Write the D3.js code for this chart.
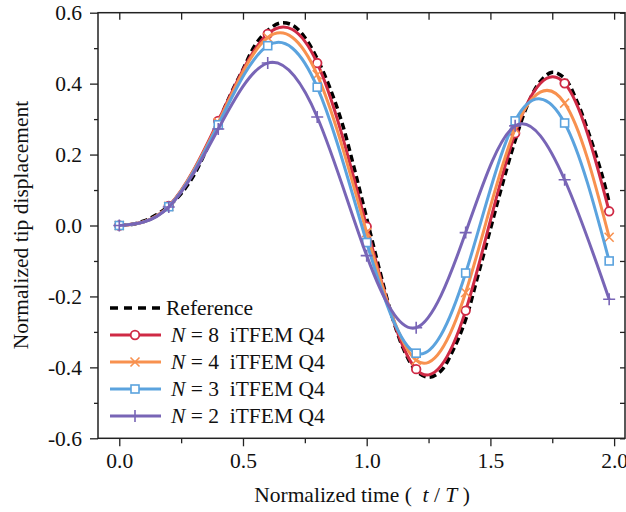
<!DOCTYPE html>
<html>
<head>
<meta charset="utf-8">
<script src="https://cdn.jsdelivr.net/npm/d3@7"></script>
<style>
  body { margin: 0; background: #fff; }
  svg text { font-family: "Liberation Serif", serif; fill: #111; }
</style>
</head>
<body>
<div id="chart"></div>
<script>
// ---- data ----
let markTimes = [0, 0.2, 0.4, 0.6, 0.8, 1.0, 1.2, 1.4, 1.6, 1.8, 1.98];
let n8 = [0, 0.055, 0.295, 0.54, 0.458, -0.003, -0.405, -0.240, 0.260, 0.401, 0.040];
let n4 = [0, 0.054, 0.290, 0.53, 0.425, -0.020, -0.380, -0.189, 0.272, 0.345, -0.033];
let n3 = [0, 0.053, 0.284, 0.507, 0.390, -0.048, -0.360, -0.134, 0.295, 0.289, -0.100];
let n2 = [0, 0.052, 0.272, 0.458, 0.306, -0.085, -0.288, -0.020, 0.281, 0.129, -0.208];

let refTimes = [0, 0.05, 0.1, 0.15, 0.2, 0.25, 0.3, 0.35, 0.4, 0.45, 0.5, 0.55, 0.6, 0.65, 0.7, 0.75,
  0.8, 0.85, 0.9, 0.95, 1.0, 1.05, 1.1, 1.15, 1.2, 1.25, 1.3, 1.35, 1.4, 1.45, 1.5, 1.55,
  1.6, 1.65, 1.7, 1.75, 1.8, 1.85, 1.9, 1.95, 1.98];
let refValues = [0, 0.003, 0.013, 0.03, 0.055, 0.09, 0.14, 0.21, 0.29, 0.37, 0.44, 0.51, 0.55, 0.571, 0.565, 0.53,
  0.47, 0.39, 0.29, 0.16, 0.02, -0.12, -0.25, -0.35, -0.41, -0.428, -0.41, -0.35, -0.265, -0.14, -0.01, 0.12,
  0.24, 0.34, 0.405, 0.432, 0.415, 0.35, 0.255, 0.145, 0.065];

let xTicks = [0, 0.5, 1.0, 1.5, 2.0];
let xMinor = [0.25, 0.75, 1.25, 1.75];
let yTicks = [-0.6, -0.4, -0.2, 0.0, 0.2, 0.4, 0.6];
let yMinor = [-0.5, -0.3, -0.1, 0.1, 0.3, 0.5];

let seriesNames = ["8", "4", "3", "2"];
let seriesColors = ["#cf2a45", "#f8914f", "#5ba3de", "#7865b6"];
let seriesShapes = ["circle", "cross", "square", "plus"];
let seriesValues = [n8, n4, n3, n2];

// ---- layout ----
var width = 626, height = 512;
let plotLeft = 98, plotRight = 625, plotTop = 12.7, plotBottom = 438.3;
let fontSize = 21.5;

let svg = d3.select("#chart").append("svg")
  .attr("width", width)
  .attr("height", height)
  .attr("font-family", "Liberation Serif");

let x = d3.scaleLinear().domain([-0.086, 2.044]).range([plotLeft, plotRight]);
let y = d3.scaleLinear().domain([-0.6, 0.6]).range([plotBottom, plotTop]);

// axes
let axisColor = "#222";
function styleAxis(g) {
  g.select(".domain").remove();
  g.attr("font-family", "Liberation Serif").attr("font-size", fontSize);
  g.selectAll("line").attr("stroke", axisColor).attr("stroke-width", 1.3);
  g.selectAll("text").attr("fill", "#111");
}

svg.append("g").attr("transform", `translate(0,${plotBottom})`)
  .call(d3.axisBottom(x).tickValues(xTicks).tickSize(8).tickPadding(6).tickFormat(d3.format(".1f")))
  .call(styleAxis);
svg.append("g").attr("transform", `translate(0,${plotBottom})`)
  .call(d3.axisBottom(x).tickValues(xMinor).tickSize(5).tickFormat(""))
  .call(styleAxis);
svg.append("g").attr("transform", `translate(${plotLeft},0)`)
  .call(d3.axisLeft(y).tickValues(yTicks).tickSize(8).tickPadding(8)
    .tickFormat(d => d3.format(".1f")(d).replace("−", "-")))
  .call(styleAxis);
svg.append("g").attr("transform", `translate(${plotLeft},0)`)
  .call(d3.axisLeft(y).tickValues(yMinor).tickSize(4).tickFormat(""))
  .call(styleAxis);
// mirrored ticks pointing inside
svg.append("g").attr("transform", `translate(0,${plotTop})`)
  .call(d3.axisBottom(x).tickValues(xTicks.concat(xMinor)).tickSize(7).tickFormat(""))
  .call(styleAxis);
svg.append("g").attr("transform", `translate(${plotRight},0)`)
  .call(d3.axisLeft(y).tickValues(yTicks.concat(yMinor)).tickSize(5).tickFormat(""))
  .call(styleAxis);

svg.append("rect")
  .attr("x", plotLeft).attr("y", plotTop)
  .attr("width", plotRight - plotLeft).attr("height", plotBottom - plotTop)
  .attr("fill", "none").attr("stroke", axisColor).attr("stroke-width", 1.5);

// axis titles
let xt = svg.append("text")
  .attr("x", 362).attr("y", 502)
  .attr("text-anchor", "middle").attr("font-size", fontSize)
  .attr("xml:space", "preserve");
xt.append("tspan").text("Normalized time (  ");
xt.append("tspan").attr("font-style", "italic").text("t");
xt.append("tspan").text(" / ");
xt.append("tspan").attr("font-style", "italic").text("T");
xt.append("tspan").text(" )");

svg.append("text")
  .attr("transform", "translate(28,225) rotate(-90)")
  .attr("text-anchor", "middle").attr("font-size", fontSize)
  .text("Normalized tip displacement");

// curves
let line = d3.line().x(d => x(d[0])).y(d => y(d[1])).curve(d3.curveNatural);

let refData = refTimes.map((t, i) => [t, refValues[i]]);
svg.append("path").datum(refData)
  .attr("d", d3.line().x(d => x(d[0])).y(d => y(d[1])).curve(d3.curveCatmullRom))
  .attr("fill", "none").attr("stroke", "#000").attr("stroke-width", 3.5)
  .attr("stroke-dasharray", "7,4");

function drawMarker(g, shape, color, cx, cy) {
  if (shape === "circle") {
    g.append("circle").attr("cx", cx).attr("cy", cy).attr("r", 4.3)
      .attr("fill", "#fff").attr("stroke", color).attr("stroke-width", 1.8);
  } else if (shape === "square") {
    g.append("rect").attr("x", cx - 4).attr("y", cy - 4).attr("width", 8).attr("height", 8)
      .attr("fill", "#fff").attr("stroke", color).attr("stroke-width", 1.6);
  } else if (shape === "cross") {
    g.append("path").attr("d", `M${cx-4.5},${cy-4.5}L${cx+4.5},${cy+4.5}M${cx-4.5},${cy+4.5}L${cx+4.5},${cy-4.5}`)
      .attr("stroke", color).attr("stroke-width", 1.6);
  } else {
    g.append("path").attr("d", `M${cx-6},${cy}L${cx+6},${cy}M${cx},${cy-6}L${cx},${cy+6}`)
      .attr("stroke", color).attr("stroke-width", 1.6);
  }
}

seriesValues.forEach((vals, k) => {
  let data = markTimes.map((t, i) => [t, vals[i]]);
  let g = svg.append("g");
  g.append("path").datum(data)
    .attr("d", line)
    .attr("fill", "none").attr("stroke", seriesColors[k]).attr("stroke-width", 3);
  data.forEach(d => drawMarker(g, seriesShapes[k], seriesColors[k], x(d[0]), y(d[1])));
});

// legend
let legY = [308, 335, 362, 389, 416];
let lx0 = 110, lx1 = 161;
let leg = svg.append("g");
leg.append("line").attr("x1", lx0).attr("x2", lx1).attr("y1", legY[0]).attr("y2", legY[0])
  .attr("stroke", "#000").attr("stroke-width", 3.5).attr("stroke-dasharray", "8,6");
leg.append("text").attr("x", 166).attr("y", legY[0] + 7).attr("font-size", fontSize).text("Reference");

seriesNames.forEach((n, k) => {
  let yy = legY[k + 1];
  leg.append("line").attr("x1", lx0).attr("x2", lx1).attr("y1", yy).attr("y2", yy)
    .attr("stroke", seriesColors[k]).attr("stroke-width", 3);
  drawMarker(leg, seriesShapes[k], seriesColors[k], 135, yy);
  let t = leg.append("text").attr("x", 171).attr("y", yy + 7).attr("font-size", fontSize)
    .attr("xml:space", "preserve");
  t.append("tspan").attr("font-style", "italic").text("N");
  t.append("tspan").text(" = " + n + "  iTFEM Q4");
});
</script>
</body>
</html>
